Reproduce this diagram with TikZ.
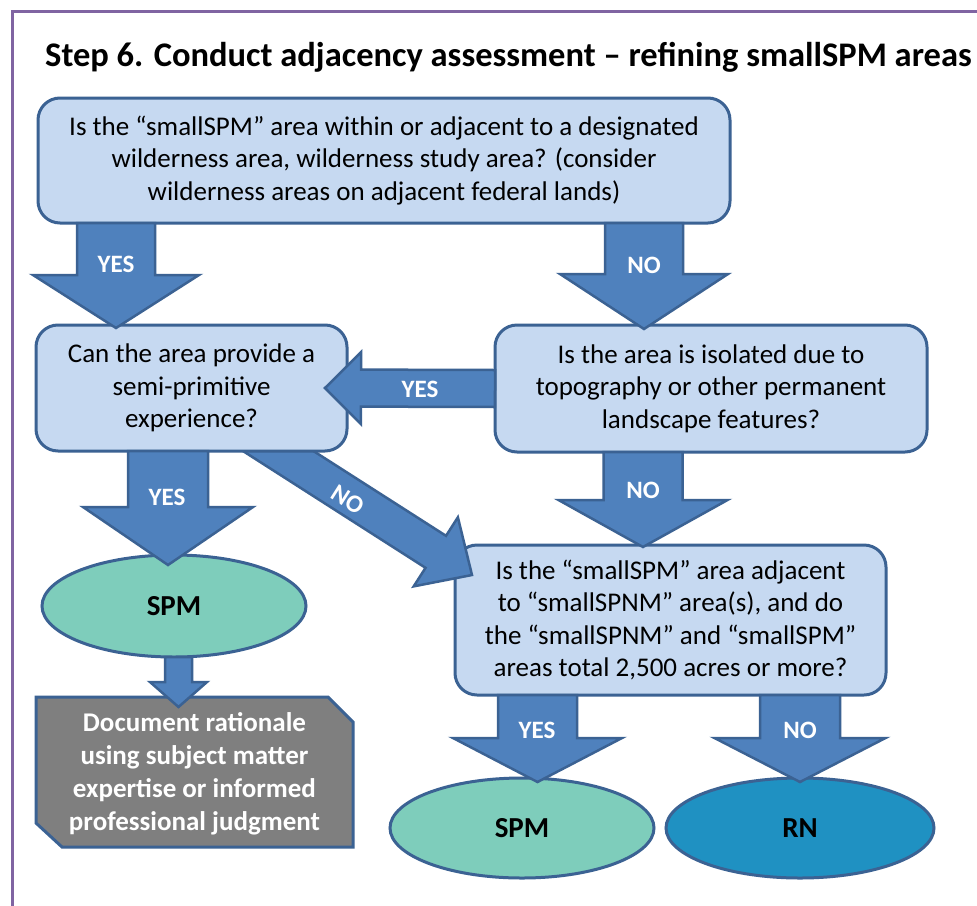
\documentclass[tikz,border=0pt]{standalone}
\usepackage{fontspec}
\setmainfont{Carlito}
\usetikzlibrary{calc,shapes.geometric}
\pgfdeclarelayer{bg}
\pgfsetlayers{bg,main}
\definecolor{boxfill}{HTML}{C6D9F1}
\definecolor{boxline}{HTML}{3B6293}
\definecolor{arrowfill}{HTML}{4F81BD}
\definecolor{spmfill}{HTML}{7ECDBB}
\definecolor{rnfill}{HTML}{1F91C2}
\definecolor{docfill}{HTML}{7F7F7F}
\definecolor{framecol}{HTML}{8064A2}
\newcommand{\blockarrow}[6][]{%
  \coordinate (ba-s) at (#2);
  \coordinate (ba-t) at (#3);
  \coordinate (ba-h) at ($(ba-t)!#6pt!(ba-s)$);
  \draw[barrow,#1] ($(ba-s)!#4pt!90:(ba-t)$) -- ($(ba-h)!#4pt!90:(ba-t)$)
     -- ($(ba-h)!#5pt!90:(ba-t)$) -- (ba-t) -- ($(ba-h)!#5pt!-90:(ba-t)$)
     -- ($(ba-h)!#4pt!-90:(ba-t)$) -- ($(ba-s)!#4pt!-90:(ba-t)$) -- cycle;
}
\begin{document}
\begin{tikzpicture}[x=1pt,y=-1pt,
  qbox/.style={rectangle, rounded corners=22pt, draw=boxline, fill=boxfill,
    line width=3pt, inner sep=0pt, outer sep=0pt, align=center,
    font=\fontsize{27}{32.5}\selectfont},
  outcome/.style={ellipse, draw=boxline, line width=3pt, inner sep=0pt,
    outer sep=0pt, font=\bfseries\fontsize{29}{34}\selectfont},
  docbox/.style={rectangle, inner sep=0pt, outer sep=0pt, align=center,
    text=white, font=\bfseries\fontsize{27}{33}\selectfont},
  docshape/.style={draw=boxline, fill=docfill, line width=3pt, line join=miter},
  barrow/.style={fill=arrowfill, draw=boxline, line width=2.5pt, line join=miter},
  lab/.style={text=white, inner sep=0pt, font=\bfseries\fontsize{25}{28}\selectfont},
]
\useasboundingbox (0,0) rectangle (977,905);
\begin{pgfonlayer}{bg}
\fill[white] (0,0) rectangle (977,905);
\end{pgfonlayer}
\draw[framecol, line width=3pt] (12,906) -- (12,11) -- (978,11);

\node[anchor=base west, inner sep=0pt, font=\bfseries\fontsize{34.5}{40}\selectfont] (title) at (45,66)
  {Step 6. Conduct adjacency assessment – refining smallSPM areas};

% box 4 first, so that the diagonal arrow lies over it
\node[qbox, minimum width=431pt, minimum height=150pt] (b4) at (670.5,620)
  {Is the “smallSPM” area adjacent\\ to “smallSPNM” area(s), and do\\ the “smallSPNM” and “smallSPM”\\ areas total 2,500 acres or more?};

\coordinate (dtail) at (236,424);
\blockarrow{dtail}{$(b4.north west)+(17,30)$}{19}{41}{43}

\node[qbox, minimum width=692pt, minimum height=125pt] (b1) at (384,160.5)
  {Is the “smallSPM” area within or adjacent to a designated\\ wilderness area, wilderness study area? (consider\\ wilderness areas on adjacent federal lands)};
\node[qbox, minimum width=311pt, minimum height=126pt] (b2) at (191.5,388)
  {Can the area provide a\\ semi-primitive\\ experience?};
\node[qbox, minimum width=432pt, minimum height=127pt] (b3) at (711,388.5)
  {Is the area is isolated due to\\ topography or other permanent\\ landscape features?};

\node[outcome, fill=spmfill, minimum width=264pt, minimum height=102pt] (spm1) at (174,606) {SPM};
\node[outcome, fill=spmfill, minimum width=264pt, minimum height=100pt] (spm2) at (522,828) {SPM};
\node[outcome, fill=rnfill, minimum width=268pt, minimum height=100pt] (rn) at (800,828) {RN};

\node[docbox, minimum width=317pt, minimum height=150pt] (doc) at (194.5,774)
  {Document rationale\\ using subject matter\\ expertise or informed\\ professional judgment};
\begin{pgfonlayer}{bg}
\draw[docshape] ($(doc.north west)+(0,-2)$) -- ($(doc.north east)+(-25,-2)$) -- ($(doc.north east)+(0,23)$)
  -- ($(doc.south east)+(0,-2)$) -- ($(doc.south west)+(26,-2)$) -- ($(doc.south west)+(0,-26)$) -- cycle;
\end{pgfonlayer}

% arrows
\blockarrow{$(b1.south west)+(78,0)$}{$(b2.north west)+(80,3)$}{39}{83}{53}
\blockarrow{$(b1.south west)+(606,0)$}{$(b3.north west)+(149,4)$}{39}{84}{55}
\blockarrow{b3.west}{$(b2.east)+(-22,0)$}{18.5}{36}{36}
\blockarrow{$(b2.south west)+(132,0)$}{$(spm1.north)+(-6,10)$}{40}{85}{58}
\blockarrow{$(b3.south west)+(148,0)$}{$(b4.north west)+(188,2)$}{39.5}{84.5}{47}
\blockarrow{$(spm1.south)+(4.5,0)$}{$(doc.north)+(-16,8)$}{13.5}{28.5}{25}
\blockarrow{$(b4.south west)+(82.5,0)$}{$(spm2.north)+(15.5,4)$}{39.5}{84.5}{44}
\blockarrow{$(b4.south west)+(345,0)$}{$(rn.north)+(0,4)$}{40}{85.5}{44}

% labels
\node[lab] (l1) at (116,264) {YES};
\node[lab] (l2) at (644,265) {NO};
\node[lab] (l3) at (420,389) {YES};
\node[lab] (l4) at (167,497) {YES};
\node[lab] (l5) at (643,490) {NO};
\node[lab, rotate=-32.5] (l6) at (348,500) {NO};
\node[lab] (l7) at (537,730) {YES};
\node[lab] (l8) at (800,730) {NO};
\end{tikzpicture}
\end{document}
